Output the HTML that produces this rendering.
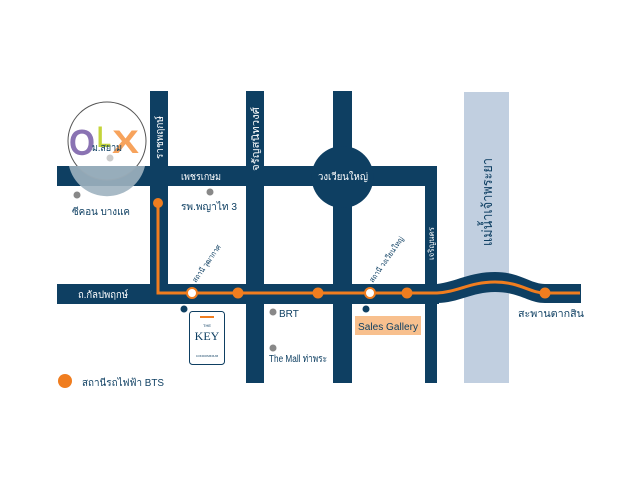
<!DOCTYPE html>
<html><head><meta charset="utf-8"><style>
html,body{margin:0;padding:0;background:#fff;}
svg{display:block;font-family:"Liberation Sans","Noto Sans CJK SC",sans-serif;}
</style></head><body>
<svg width="640" height="480" viewBox="0 0 640 480">
<rect width="640" height="480" fill="#fff"/>
<rect x="464" y="92" width="45" height="291" fill="#c1cfe0"/>
<g fill="#0e3f62">
<rect x="57" y="166" width="380" height="20"/>
<rect x="150" y="91" width="18" height="200"/>
<rect x="246" y="91" width="18" height="292"/>
<rect x="333" y="91" width="19" height="292"/>
<circle cx="342.5" cy="177" r="31"/>
<rect x="425" y="166" width="12" height="217"/>
<rect x="57" y="284" width="382" height="20"/>
<path d="M437,284 C455,282 470,272 495,272 C520,272 530,284 545,284 L581,284 L581,303 L545,303 C528,303 520,292 495,292 C472,292 458,303 437,303 Z"/>
</g>
<path d="M158,203 L158,293 L437,293 C458,292 470,282 495,282 C520,282 530,293 545,293 L580,293" fill="none" stroke="#f07d1f" stroke-width="3"/>
<g fill="#f07d1f">
<circle cx="158" cy="203" r="5"/>
<circle cx="238" cy="293" r="5.5"/>
<circle cx="318" cy="293" r="5.5"/>
<circle cx="407" cy="293" r="5.5"/>
<circle cx="545" cy="293" r="5.5"/>
<circle cx="65" cy="381" r="7"/>
</g>
<g fill="#fff" stroke="#f07d1f" stroke-width="2">
<circle cx="192" cy="293" r="5"/>
<circle cx="370" cy="293" r="5"/>
</g>
<g fill="#0e3f62"><circle cx="184" cy="309" r="3.5"/><circle cx="366" cy="309" r="3.5"/></g>
<g fill="#888"><circle cx="77" cy="195" r="3.5"/><circle cx="210" cy="192" r="3.5"/><circle cx="273" cy="312" r="3.5"/><circle cx="273" cy="348" r="3.5"/></g>
<rect x="355" y="316" width="66" height="19" fill="#f8c08e"/>
<text x="358" y="330" font-size="10" fill="#0e3f62" textLength="60" lengthAdjust="spacingAndGlyphs">Sales Gallery</text>
<rect x="189.5" y="311.5" width="35" height="53" rx="3" fill="#fff" stroke="#0e3f62"/>
<rect x="200" y="316" width="14" height="2" fill="#f07d1f"/>
<text x="207" y="327" font-size="4" fill="#0e3f62" text-anchor="middle">THE</text>
<text x="207" y="340" font-size="12" fill="#0e3f62" text-anchor="middle" font-family="Liberation Serif">KEY</text>
<text x="207" y="357" font-size="3" fill="#0e3f62" text-anchor="middle">CONDOMINIUM</text>
<g font-size="10" fill="#fff" lengthAdjust="spacingAndGlyphs">
<text x="181" y="180" textLength="40" lengthAdjust="spacingAndGlyphs">เพชรเกษม</text>
<text x="318" y="180" textLength="50" lengthAdjust="spacingAndGlyphs">วงเวียนใหญ่</text>
<text x="78" y="298" textLength="50" lengthAdjust="spacingAndGlyphs">ถ.กัลปพฤกษ์</text>
<text transform="translate(163,159) rotate(-90)" textLength="43" lengthAdjust="spacingAndGlyphs">ราชพฤกษ์</text>
<text transform="translate(259,171) rotate(-90)" textLength="64" lengthAdjust="spacingAndGlyphs">จรัญสนิทวงศ์</text>
<text transform="translate(434,260) rotate(-90)" font-size="8" textLength="33" lengthAdjust="spacingAndGlyphs">เจริญนคร</text>
</g>
<g font-size="10" fill="#0e3f62">
<text x="72" y="215" textLength="58" lengthAdjust="spacingAndGlyphs">ซีคอน บางแค</text>
<text x="181" y="210" textLength="56" lengthAdjust="spacingAndGlyphs">รพ.พญาไท 3</text>
<text x="279" y="317">BRT</text>
<text x="269" y="362" textLength="58" lengthAdjust="spacingAndGlyphs">The Mall ท่าพระ</text>
<text x="518" y="317" textLength="66" lengthAdjust="spacingAndGlyphs">สะพานตากสิน</text>
<text x="82" y="386" textLength="82" lengthAdjust="spacingAndGlyphs">สถานีรถไฟฟ้า BTS</text>
<text transform="translate(492,246) rotate(-90)" font-size="14" textLength="88" lengthAdjust="spacingAndGlyphs">แม่น้ำเจ้าพระยา</text>
<text transform="translate(196,283) rotate(-55)" font-size="7.5" textLength="44" lengthAdjust="spacingAndGlyphs">สถานี วุฒากาศ</text>
<text transform="translate(373,283) rotate(-55)" font-size="7.5" textLength="54" lengthAdjust="spacingAndGlyphs">สถานี วงเวียนใหญ่</text>
</g>
<circle cx="107" cy="141" r="39" fill="#fff" fill-opacity="0.3" stroke="#555" stroke-width="1"/>
<path d="M69,166 L145,166 A39,39 0 0 1 69,166 Z" fill="#9fb2c0" opacity="0.9"/>
<circle cx="110" cy="158" r="3.5" fill="#ccc"/>
<text x="69" y="155" font-size="36" font-weight="bold" fill="#8a73b3" textLength="26" lengthAdjust="spacingAndGlyphs">O</text>
<text x="97" y="147" font-size="30" font-weight="bold" fill="#c4d43a" textLength="14" lengthAdjust="spacingAndGlyphs">L</text>
<text x="112" y="153" font-size="32" font-weight="bold" fill="#f7a35c" textLength="27" lengthAdjust="spacingAndGlyphs">X</text>
<text x="92" y="151" font-size="10" fill="#0e3f62" textLength="30" lengthAdjust="spacingAndGlyphs">ม.สยาม</text>
</svg>
</body></html>
